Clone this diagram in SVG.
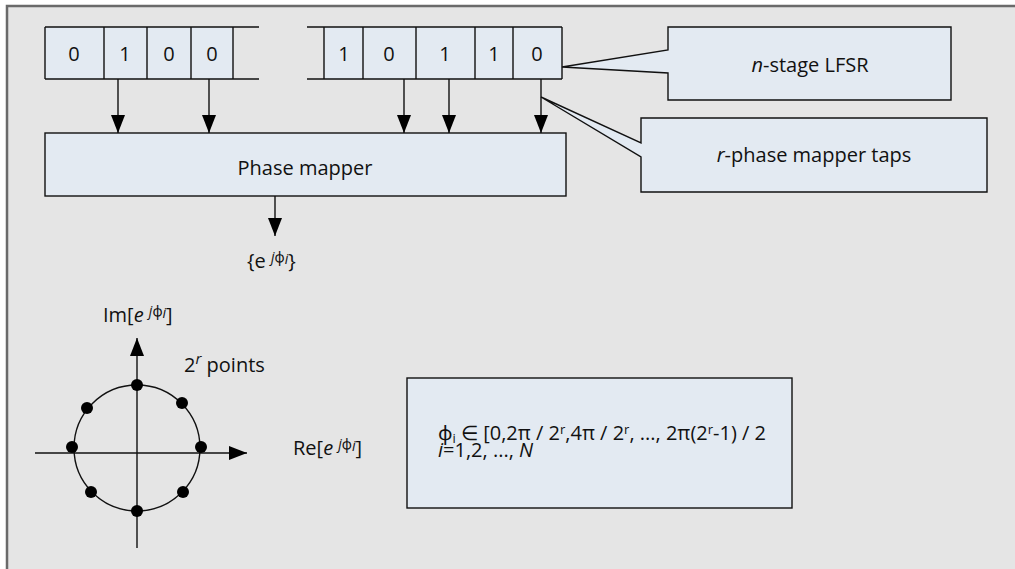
<svg xmlns="http://www.w3.org/2000/svg" width="1015" height="569" viewBox="0 0 1015 569">
<style>
text{font-family:"Open Sans","Noto Sans","Liberation Sans",sans-serif;fill:#111}
.box{fill:#e3eaf2;stroke:#111;stroke-width:1.4}
.ln{stroke:#111;stroke-width:1.4;fill:none}
.t20{font-size:20px}
.it{font-style:italic}
.sup{font-size:14px}
.dot{fill:#000}
</style>
<defs>
<marker id="ah" markerUnits="userSpaceOnUse" markerWidth="18" markerHeight="14" refX="18" refY="7" orient="auto">
<path d="M0,0 L18,7 L0,14 z" fill="#000"/>
</marker>
</defs>
<rect x="0" y="0" width="1015" height="569" fill="#ffffff"/>
<rect x="7" y="6" width="1008" height="563" fill="#e5e5e5"/>
<path d="M7,569 V6 H1015" stroke="#6a6a6a" stroke-width="2.5" fill="none"/>

<g id="lfsr-left">
<rect x="45" y="27" width="188" height="52" fill="#e3eaf2"/>
<path class="ln" d="M45,27 H259 M45,79 H259 M45,27 V79 M104,27 V79 M147,27 V79 M191,27 V79 M233,27 V79"/>
<text class="t20" x="74" y="61" text-anchor="middle">0</text>
<text class="t20" x="125" y="61" text-anchor="middle">1</text>
<text class="t20" x="169" y="61" text-anchor="middle">0</text>
<text class="t20" x="212" y="61" text-anchor="middle">0</text>
</g>

<g id="lfsr-right">
<rect x="324" y="27" width="238" height="52" fill="#e3eaf2"/>
<path class="ln" d="M307,27 H562 M307,79 H562 M324,27 V79 M363,27 V79 M416,27 V79 M475,27 V79 M513,27 V79 M562,27 V79"/>
<text class="t20" x="344" y="61" text-anchor="middle">1</text>
<text class="t20" x="389" y="61" text-anchor="middle">0</text>
<text class="t20" x="445" y="61" text-anchor="middle">1</text>
<text class="t20" x="494" y="61" text-anchor="middle">1</text>
<text class="t20" x="537" y="61" text-anchor="middle">0</text>
</g>

<g id="phase-mapper">
<rect class="box" x="45" y="133" width="521" height="63"/>
<text class="t20" x="305" y="175" text-anchor="middle">Phase mapper</text>
</g>

<g id="callout-lfsr">
<path class="box" d="M668,27 H951 V100 H668 V73 L562,67 L668,50 Z"/>
<text class="t20" x="810" y="72" text-anchor="middle"><tspan class="it">n</tspan>-stage LFSR</text>
</g>

<g id="callout-taps">
<path class="box" d="M641,118 H987 V192 H641 V157 L541,97 L641,143 Z"/>
<text class="t20" x="814" y="162" text-anchor="middle"><tspan class="it">r</tspan>-phase mapper taps</text>
</g>

<g id="output-label">
<text class="t20" x="247" y="268">{e <tspan class="it sup" dy="-6">j</tspan><tspan class="sup">ϕ</tspan><tspan class="it sup" dy="2">i</tspan><tspan dy="4">}</tspan></text>
</g>

<g id="connectors">
<line class="ln" x1="118" y1="79" x2="118" y2="133" marker-end="url(#ah)"/>
<line class="ln" x1="209" y1="79" x2="209" y2="133" marker-end="url(#ah)"/>
<line class="ln" x1="404" y1="79" x2="404" y2="133" marker-end="url(#ah)"/>
<line class="ln" x1="449" y1="79" x2="449" y2="133" marker-end="url(#ah)"/>
<line class="ln" x1="541" y1="79" x2="541" y2="133" marker-end="url(#ah)"/>
<line class="ln" x1="275" y1="196" x2="275" y2="236" marker-end="url(#ah)"/>
</g>

<g id="constellation">
<circle class="ln" cx="137" cy="448" r="63"/>
<line class="ln" x1="137" y1="548" x2="137" y2="338" marker-end="url(#ah)"/>
<line class="ln" x1="35" y1="453" x2="247" y2="453" marker-end="url(#ah)"/>
<circle class="dot" cx="137" cy="385" r="6"/>
<circle class="dot" cx="137" cy="511" r="6"/>
<circle class="dot" cx="72" cy="447" r="6"/>
<circle class="dot" cx="201" cy="447" r="6"/>
<circle class="dot" cx="87" cy="408" r="6"/>
<circle class="dot" cx="182" cy="403" r="6"/>
<circle class="dot" cx="91" cy="492" r="6"/>
<circle class="dot" cx="183" cy="492" r="6"/>
<text class="t20" x="103" y="322">Im[<tspan class="it">e</tspan> <tspan class="it sup" dy="-6">j</tspan><tspan class="sup">ϕ</tspan><tspan class="it sup" dy="2">i</tspan><tspan dy="4">]</tspan></text>
<text class="t20" x="184" y="372">2<tspan class="it" font-size="15" dy="-8">r</tspan><tspan dy="8"> points</tspan></text>
<text class="t20" x="293" y="455">Re[<tspan class="it">e</tspan> <tspan class="it sup" dy="-6">j</tspan><tspan class="sup">ϕ</tspan><tspan class="it sup" dy="2">i</tspan><tspan dy="4">]</tspan></text>
</g>

<g id="formula">
<rect class="box" x="407" y="378" width="385" height="130"/>
<text class="t20" x="438" y="440">ϕ<tspan font-size="13" dy="3">i</tspan><tspan dy="-3"> ∈ [0,2π / 2</tspan><tspan font-size="13" dy="-6">r</tspan><tspan dy="6">,4π / 2</tspan><tspan font-size="13" dy="-6">r</tspan><tspan dy="6">, ..., 2π(2</tspan><tspan font-size="13" dy="-6">r</tspan><tspan dy="6">-1) / 2</tspan></text>
<text class="t20" x="438" y="457"><tspan class="it">i</tspan>=1,2, ..., <tspan class="it">N</tspan></text>
</g>
</svg>
